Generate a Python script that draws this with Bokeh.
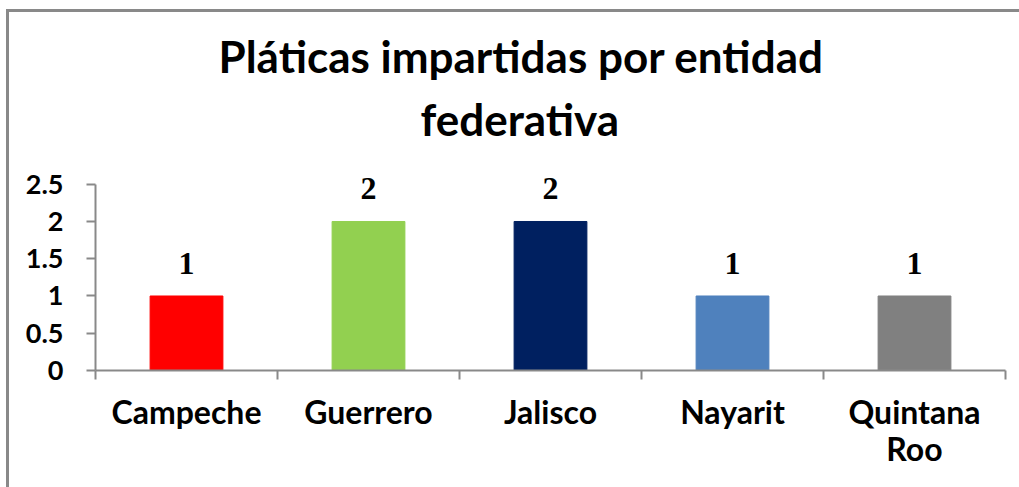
from bokeh.plotting import figure
from bokeh.layouts import column
from bokeh.models import (ColumnDataSource, FixedTicker, LabelSet, Title, Range1d)
from bokeh.embed import file_html
from bokeh.resources import INLINE

categories = ["Campeche", "Guerrero", "Jalisco", "Nayarit", "Quintana\nRoo"]
values = [1, 2, 2, 1, 1]
colors = ["#FF0000", "#92D050", "#002060", "#4F81BD", "#808080"]
y_ticks = [0, 0.5, 1, 1.5, 2, 2.5]
y_tick_labels = ["0", "0.5", "1", "1.5", "2", "2.5"]
title_lines = ["Pláticas impartidas por entidad", "federativa"]

FONT = "Lato"
AXIS_COLOR = "#898989"

xpos = [i + 0.5 for i in range(len(categories))]
src = ColumnDataSource(dict(x=xpos, top=values, color=colors,
                            label=[str(v) for v in values]))

p = figure(frame_width=910, frame_height=220, output_backend="svg",
           toolbar_location=None,
           x_range=Range1d(0, len(categories)), y_range=Range1d(0, 2.953),
           min_border_left=86, min_border_right=14, min_border_top=138,
           min_border_bottom=117)
p.background_fill_color = "white"
p.border_fill_color = "white"
p.outline_line_color = None
p.xgrid.visible = False
p.ygrid.visible = False

p.vbar(x="x", top="top", width=0.4, color="color", source=src)

labels = LabelSet(x="x", y="top", text="label", source=src, y_offset=22,
                  text_align="center", text_baseline="alphabetic",
                  text_font=FONT, text_font_style="bold",
                  text_font_size="32px", text_color="black")
p.add_layout(labels)

# y axis
ya = p.yaxis[0]
ya.bounds = (0, 2.5)
ya.ticker = FixedTicker(ticks=y_ticks, minor_ticks=[])
ya.major_label_overrides = {t: l for t, l in zip(y_ticks, y_tick_labels)}
ya.axis_line_color = AXIS_COLOR
ya.axis_line_width = 2
ya.major_tick_line_color = AXIS_COLOR
ya.major_tick_line_width = 2
ya.major_tick_in = 0
ya.major_tick_out = 9
ya.minor_tick_line_color = None
ya.major_label_standoff = 23
ya.major_label_text_font = FONT
ya.major_label_text_font_style = "bold"
ya.major_label_text_font_size = "27px"
ya.major_label_text_color = "black"

# x axis: labels at centres, tick marks at category boundaries
xa = p.xaxis[0]
xa.ticker = FixedTicker(ticks=xpos, minor_ticks=list(range(len(categories) + 1)))
xa.major_label_overrides = {x: c for x, c in zip(xpos, categories)}
xa.axis_line_color = AXIS_COLOR
xa.axis_line_width = 2
xa.major_tick_line_color = None
xa.minor_tick_line_color = AXIS_COLOR
xa.minor_tick_line_width = 2
xa.minor_tick_in = 0
xa.minor_tick_out = 9
xa.major_label_standoff = 12
xa.major_label_text_font = FONT
xa.major_label_text_font_style = "bold"
xa.major_label_text_font_size = "32px"
xa.major_label_text_color = "black"
xa.major_label_text_line_height = 0.95

# two-line title (left-aligned with an offset so it is centred on the whole chart);
# later-added titles sit further from the plot
for line, gap, off in zip(reversed(title_lines), [12, 6], [325, 123]):
    p.add_layout(Title(text=line, align="left", offset=off, text_font=FONT,
                       text_font_style="bold", text_font_size="44px",
                       text_color="black", standoff=gap), "above")

layout = column(p, styles={"margin-left": "6px", "margin-top": "9px",
                           "border-left": f"3px solid {AXIS_COLOR}",
                           "border-top": f"3px solid {AXIS_COLOR}"})

open("out.html", "w").write(file_html(layout, INLINE))
